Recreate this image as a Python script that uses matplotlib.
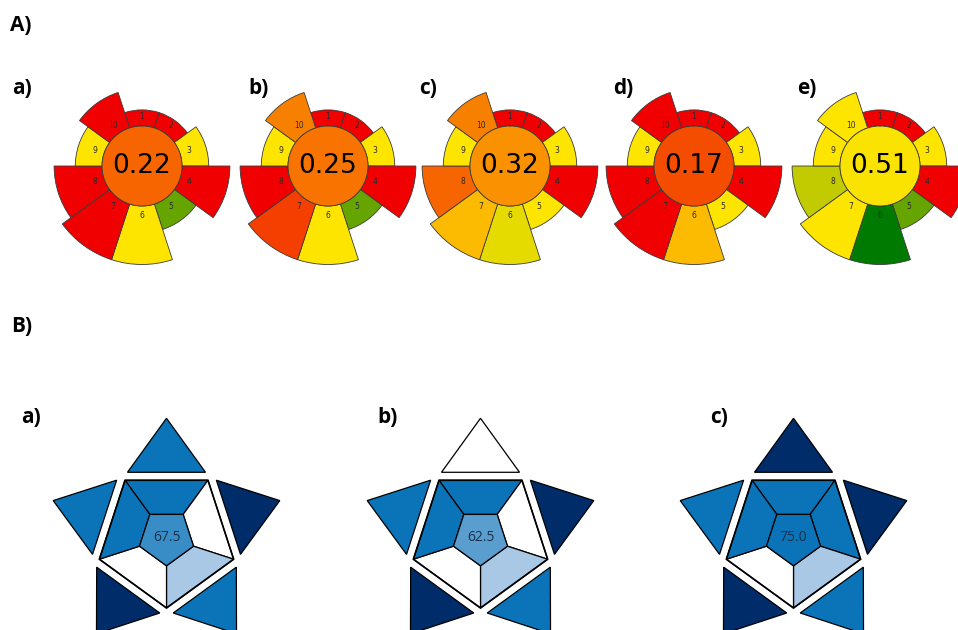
import matplotlib.pyplot as plt
import numpy as np
from matplotlib.colors import LinearSegmentedColormap

W, H = 958, 630

# AGREEprep: criterion weights and per-criterion scores (0..1), overall score
weights = [1, 1, 2, 4, 2, 5, 5, 4, 2, 3]
agree_names = ['a)', 'b)', 'c)', 'd)', 'e)']
agree_total = [0.22, 0.25, 0.32, 0.17, 0.51]
agree_scores = [
    [0, 0, 0.5, 0, 0.8, 0.5, 0, 0, 0.5, 0],
    [0, 0, 0.5, 0, 0.8, 0.5, 0.14, 0, 0.5, 0.28],
    [0, 0, 0.5, 0, 0.5, 0.55, 0.41, 0.22, 0.5, 0.28],
    [0, 0, 0.5, 0, 0.5, 0.41, 0, 0, 0.5, 0],
    [0, 0, 0.5, 0, 0.8, 1.0, 0.5, 0.62, 0.5, 0.5],
]

# BAGI: star points (top, upper-right, lower-right, lower-left, upper-left)
# and pentagon blocks in the same order
bagi_names = ['a)', 'b)', 'c)']
bagi_points = [
    [7.5, 10, 7.5, 10, 7.5],
    [2.5, 10, 7.5, 10, 7.5],
    [10, 10, 7.5, 10, 7.5],
]
bagi_blocks = [
    [7.5, 2.5, 5, 2.5, 7.5],
    [7.5, 2.5, 5, 2.5, 7.5],
    [7.5, 7.5, 5, 2.5, 7.5],
]

agree_cmap = LinearSegmentedColormap.from_list(
    'agree', [(0, '#F00000'), (0.5, '#FFE500'), (1, '#007A00')])
bagi_cmap = LinearSegmentedColormap.from_list(
    'bagi', [(0, '#FFFFFF'), (1/3, '#A8C8E6'), (2/3, '#0B74B8'), (1, '#002C6A')])

fig = plt.figure(figsize=(W / 100, H / 100), dpi=100)

label_font = dict(family=['Open Sans', 'DejaVu Sans'], fontweight='bold', fontsize=15)


def px_text(x, y, s, **kw):
    fig.text(x / W, 1 - y / H, s, ha='left', va='baseline', **kw)


px_text(10, 31, 'A)', **label_font)
px_text(11, 332, 'B)', **label_font)

# ---- AGREEprep pictograms ----
agree_x = [142, 328, 510, 694, 880]
agree_lab_x = [12, 248, 419, 613, 797]
agree_y = 166
R = 105
r0 = 40
theta = np.deg2rad(np.arange(10) * 36)

for k in range(5):
    cx = agree_x[k]
    ax = fig.add_axes([(cx - R) / W, 1 - (agree_y + R) / H, 2 * R / W, 2 * R / H],
                      projection='polar')
    ax.set_theta_zero_location('N')
    ax.set_theta_direction(-1)
    ax.set_ylim(0, R)
    ax.axis('off')

    radii = 45.5 + 10.6 * np.array(weights)
    cols = [agree_cmap(s) for s in agree_scores[k]]
    ax.bar(theta, radii - r0, width=np.deg2rad(36), bottom=r0, color=cols,
           edgecolor='#3a3a3a', linewidth=0.6)
    ax.bar(0, r0, width=2 * np.pi, bottom=0, color=agree_cmap(agree_total[k]),
           edgecolor='none')
    t = np.linspace(0, 2 * np.pi, 300)
    ax.plot(t, np.full_like(t, r0), color='#3a3a3a', lw=0.6)
    for i in range(10):
        ax.text(theta[i], 49.5, str(i + 1), ha='center', va='center',
                fontsize=5.5, color='#2a2a2a')
    ax.text(0, 0, f'{agree_total[k]:.2f}', ha='center', va='center',
            fontsize=19, color='black')
    px_text(agree_lab_x[k], 94, agree_names[k], **label_font)

# ---- BAGI pictograms ----
bagi_x = [166.5, 480.5, 793.5]
bagi_lab_x = [21, 377, 710]
bagi_y = 537.4
R_out = 70.6
R_in = 28.4
gap = 8
half_base = 39
tip = 54

vang = np.deg2rad(np.array([54, -18, -90, -162, 126]))  # inverted pentagon vertices
nang = np.deg2rad(np.array([90, 18, -54, -126, 162]))   # outward normals of its edges
apothem = R_out * np.cos(np.deg2rad(36))

for k in range(3):
    sx = bagi_x[k]
    ax = fig.add_axes([(sx - 160) / W, (H - (bagi_y + 130)) / H, 320 / W, 260 / H])
    ax.set_xlim(-160, 160)
    ax.set_ylim(-130, 130)
    ax.axis('off')

    outer = np.c_[R_out * np.cos(vang), R_out * np.sin(vang)]
    inner = np.c_[R_in * np.cos(vang), R_in * np.sin(vang)]
    total = sum(bagi_points[k]) + sum(bagi_blocks[k])

    for i in range(5):
        j = (i + 1) % 5
        # edge i joins vertices i-1 and i (vertex order starts top-left)
        a, b = (i - 1) % 5, i
        quad = np.array([outer[a], outer[b], inner[b], inner[a]])
        ax.fill(quad[:, 0], quad[:, 1], facecolor=bagi_cmap((bagi_blocks[k][i] - 2.5) / 7.5),
                edgecolor='black', lw=0.9)

        n = np.array([np.cos(nang[i]), np.sin(nang[i])])
        tg = np.array([-n[1], n[0]])
        base = n * (apothem + gap)
        tri = np.array([base + tg * half_base, base - tg * half_base, base + n * tip])
        ax.fill(tri[:, 0], tri[:, 1], facecolor=bagi_cmap((bagi_points[k][i] - 2.5) / 7.5),
                edgecolor='black', lw=0.9)

    ax.fill(inner[:, 0], inner[:, 1], facecolor=bagi_cmap((total / 10 - 2.5) / 7.5),
            edgecolor='black', lw=0.9)
    ax.fill(outer[:, 0], outer[:, 1], facecolor='none', edgecolor='black', lw=1.2)
    ax.text(0, 0, f'{total:.1f}', ha='center', va='center', fontsize=10,
            color='#1c2f48', family=['Open Sans', 'DejaVu Sans'])
    px_text(bagi_lab_x[k], 423, bagi_names[k], **label_font)

fig.savefig('out.png', dpi=100)
